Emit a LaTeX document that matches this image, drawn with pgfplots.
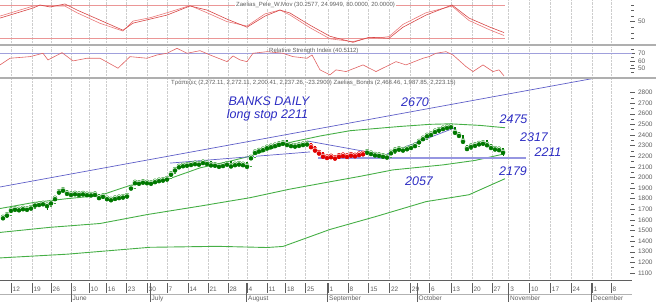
\documentclass[border=0pt]{standalone}
\usepackage{fontspec}
\setmainfont{Liberation Sans}
\usepackage{pgfplots}
\usepackage{pgfplotstable}
\pgfplotsset{compat=1.18}

\definecolor{gridc}{RGB}{205,205,205}
\definecolor{sepc}{RGB}{175,175,175}
\definecolor{labc}{RGB}{95,95,95}
\definecolor{oscA}{RGB}{215,70,70}
\definecolor{oscB}{RGB}{235,120,120}
\definecolor{refl}{RGB}{235,150,150}
\definecolor{rsil}{RGB}{225,100,100}
\definecolor{rsiref}{RGB}{160,160,220}
\definecolor{bandc}{RGB}{70,175,70}
\definecolor{trendc}{RGB}{95,95,200}
\definecolor{horc}{RGB}{150,150,225}
\definecolor{candg}{RGB}{0,120,0}
\definecolor{candh}{RGB}{70,165,70}
\definecolor{candr}{RGB}{225,0,0}
\definecolor{annc}{RGB}{45,45,195}

% oscillator (Zaelias_Pele_W.Mov)
\pgfplotstableread{
t A B
-0.75 56.4 60
7.5 74.5 78
9.25 80 79
11.75 76.4 78
15.5 81.8 78
18.5 70.9 66
24.25 52.7 47
30 34.5 33
32.5 47.3 51
36.75 54.5 57
41 61.8 66
46.75 78.2 79
51 70.9 66
56 54.5 50
61 40 42
65.5 60 64
69.25 70.9 71
71.75 65.5 62
76.75 43.6 39
81.75 23.6 19
87.5 12.7 14
91.5 21.8 21
94.25 20.9 21
96.5 20 23
100 40 45
105.75 61.8 66
112.25 80 78
116.5 56.4 52
121.75 40 35
125.25 30.3 25
}\osc

% RSI
\pgfplotstableread{
t v
-0.75 54.8
1.75 63.5
6.75 65.6
10 70
11.25 61.3
14.75 70.8
17.5 60
21 63.5
24.25 63.5
28.75 50.5
31.75 65.6
36 63.5
38.5 67.8
41 70
43.5 76.5
46 70
49.25 73.4
51.75 67.8
56 59.1
57.5 66.5
59.25 61.3
61 59.1
62.5 70
66 72.1
70 70
72.5 65.6
76 63.5
77.25 67.8
79.25 48.3
81.75 41.8
83.25 48.3
85.75 46.1
90 54.8
93.25 46.1
98.25 59.1
100.75 54.8
105 63.5
106.5 65.6
108.25 70
110.75 72.1
112.5 67.8
115.75 52.6
117.5 46.1
120 54.8
122.5 46.1
124 48.3
125.25 40.5
}\rsi

% bands (Zaelias_Bonds)
\pgfplotstableread{
t up
-0.75 1707
7.5 1763
16 1800
24.25 1830
31.75 1925
41 1980
49.25 2090
57.5 2160
61.75 2200
71.75 2330
79.25 2390
86.75 2440
99.25 2480
106.75 2500
111.75 2505
119.25 2490
125.5 2468
}\bandup
\pgfplotstableread{
t mid
-0.75 1482
11.75 1530
24.25 1566
36 1650
49.25 1730
61.75 1809
71.75 1890
81.75 1959
89.25 2010
97.5 2071
110 2118
118 2160
125.5 2223
}\bandmid
\pgfplotstableread{
t lo
-0.75 1242
16 1277
36.75 1342
53.5 1351
66 1340
70 1350
81.75 1510
93.25 1632
105.75 1772
116.5 1837
125.5 1988
}\bandlo

% candles: green
\pgfplotstableread{
t o h l c
0 1610 1628 1600 1620
1 1615 1660 1610 1645
2 1645 1698 1640 1690
3 1690 1708 1685 1700
4 1700 1705 1688 1695
5 1695 1712 1690 1705
6 1705 1710 1694 1700
7 1700 1718 1696 1712
8 1712 1748 1708 1740
9 1740 1752 1735 1745
10 1745 1760 1740 1752
11 1752 1756 1690 1735
12 1735 1766 1730 1760
13 1760 1808 1755 1800
14 1820 1870 1815 1862
15 1895 1902 1875 1880
16 1880 1884 1845 1850
17 1850 1855 1835 1840
18 1840 1852 1836 1846
19 1846 1850 1834 1840
20 1840 1850 1836 1845
21 1845 1848 1832 1838
22 1838 1842 1828 1835
23 1835 1846 1830 1840
24 1840 1842 1800 1810
25 1810 1828 1805 1822
26 1822 1825 1795 1800
27 1800 1804 1782 1790
28 1790 1808 1786 1802
29 1802 1816 1798 1810
30 1810 1820 1805 1815
31 1815 1830 1810 1825
32 1840 1908 1835 1900
33 1900 1956 1895 1950
34 1950 1955 1938 1945
35 1945 1960 1940 1955
36 1955 1958 1944 1950
37 1950 1954 1940 1945
38 1945 1965 1940 1960
39 1960 1975 1955 1970
40 1970 1980 1965 1975
41 1975 1990 1970 1985
42 1995 2036 1990 2030
43 2040 2076 2035 2070
44 2075 2106 2070 2100
45 2100 2116 2095 2110
46 2110 2120 2104 2115
47 2115 2128 2110 2122
48 2122 2136 2118 2130
49 2130 2134 2118 2125
50 2125 2146 2120 2140
51 2140 2144 2126 2132
52 2150 2155 2112 2118
53 2118 2122 2108 2115
54 2115 2118 2095 2105
55 2105 2118 2100 2112
56 2112 2130 2108 2125
57 2150 2156 2100 2108
58 2108 2126 2104 2120
59 2120 2132 2116 2126
60 2126 2130 2114 2120
61 2140 2146 2098 2105
62 2110 2192 2105 2185
63 2190 2242 2185 2235
64 2235 2256 2230 2250
65 2250 2268 2245 2262
66 2262 2286 2258 2280
67 2280 2296 2275 2290
68 2290 2306 2285 2300
69 2300 2318 2295 2312
70 2312 2328 2308 2322
71 2345 2350 2305 2310
72 2310 2314 2294 2300
73 2300 2304 2288 2295
74 2295 2308 2290 2302
75 2302 2316 2298 2310
76 2310 2322 2306 2315
91 2222 2244 2218 2238
92 2240 2244 2220 2225
93 2228 2232 2205 2212
94 2212 2216 2200 2208
95 2208 2212 2192 2200
96 2200 2204 2185 2192
97 2195 2238 2190 2232
98 2232 2260 2228 2255
99 2255 2272 2250 2266
100 2266 2270 2252 2258
101 2258 2276 2254 2270
102 2270 2288 2265 2282
103 2282 2306 2278 2300
104 2300 2342 2296 2335
105 2330 2372 2326 2365
106 2365 2398 2360 2392
107 2415 2420 2398 2405
108 2405 2438 2400 2432
109 2432 2452 2428 2446
110 2446 2466 2440 2460
111 2460 2476 2455 2470
112 2470 2486 2465 2478
113 2470 2476 2418 2425
114 2425 2430 2390 2396
115 2395 2400 2332 2340
116 2300 2305 2262 2272
117 2272 2298 2268 2292
118 2292 2308 2288 2302
119 2302 2322 2298 2316
120 2316 2328 2310 2322
121 2345 2350 2300 2308
122 2308 2312 2276 2282
123 2282 2288 2262 2268
124 2268 2272 2255 2262
125 2272 2272 2200 2237
}\gcandles

% candles: red
\pgfplotstableread{
t o h l c
77 2315 2318 2285 2290
78 2290 2294 2252 2258
79 2258 2262 2225 2230
80 2230 2234 2195 2200
81 2200 2205 2180 2188
82 2188 2200 2184 2195
83 2195 2198 2176 2182
84 2182 2205 2178 2200
85 2200 2212 2196 2206
86 2206 2210 2192 2198
87 2198 2215 2194 2210
88 2210 2214 2198 2204
89 2204 2220 2200 2215
90 2215 2228 2210 2222
}\rcandles

\pgfplotsset{
  panel/.style={
    at={(0pt,#1)}, anchor=south west, scale only axis, width=632pt,
    xmin=-0.75, xmax=157.25,
    axis line style={draw=none},
    xtick={2,7.2,12,17,21.5,25.8,30.8,36,41,46.2,51.2,56.2,61,66,70.6,75.6,81.2,86.2,91.4,96.6,101.8,106.6,112,117.2,122.2,126.4,131.6,136.8,142,147.2,152},
    xticklabels={}, xmajorgrids,
    major grid style={gridc, densely dotted, line width=0.5pt},
    xtick style={draw=none},
    ytick pos=right, yticklabel pos=right,
    ytick align=center,
    major tick length=5pt, minor tick length=3pt,
    ytick style={labc, line width=0.4pt},
    minor tick style={labc, line width=0.4pt},
    yticklabel style={font=\fontsize{6.5}{7}\selectfont, text=labc, xshift=0pt},
    /pgf/number format/assume math mode=true,
    /pgf/number format/1000 sep={},
  },
  candle/.style n args={3}{only marks, mark=none, forget plot, color=#1,
    error bars/.cd, y dir=both, y explicit, error mark=none,
    error bar style={color=#1, line width=#2, line cap=#3}},
  wicks/.style={candle={#1}{0.5pt}{butt}},
}

\begin{document}
\begin{tikzpicture}[x=1pt,y=1pt]
\path[use as bounding box] (0,0) rectangle (656,302);

% ---------- top panel ----------
\begin{axis}[panel=258pt, height=44pt, ymin=9.7, ymax=89,
  ytick={50}, minor ytick={20,30,40,60,70,80}]
\addplot[refl, line width=0.6pt] coordinates {(-0.75,80) (125.5,80)};
\addplot[refl, line width=0.6pt] coordinates {(-0.75,20) (125.5,20)};
\addplot[oscB, line width=0.6pt] table[x=t, y=B] {\osc};
\addplot[oscA, line width=0.6pt] table[x=t, y=A] {\osc};
\end{axis}

% ---------- RSI panel ----------
\begin{axis}[panel=225pt, height=30pt, ymin=39, ymax=78.2,
  ytick={50,60,70}, minor ytick={45,55,65,75}]
\addplot[rsiref, line width=1.5pt] coordinates {(-0.75,70) (157.25,70)};
\addplot[rsil, line width=0.6pt] table[x=t, y=v] {\rsi};
\end{axis}

% ---------- main panel ----------
\begin{axis}[panel=22pt, height=201pt, ymin=1034, ymax=2927,
  ytick={1100,1200,...,2800}, minor y tick num=1]
\addplot[bandc, line width=0.9pt] table[x=t, y=up] {\bandup};
\addplot[bandc, line width=0.9pt] table[x=t, y=mid] {\bandmid};
\addplot[bandc, line width=0.9pt] table[x=t, y=lo] {\bandlo};
% trend lines
\addplot[trendc, line width=0.7pt] coordinates {(-0.75,1910) (148.25,2937)};
\addplot[trendc, line width=0.7pt] coordinates {(41.75,2135) (76.75,2240)};
\addplot[trendc, line width=0.7pt] coordinates {(76,2344) (96.75,2202)};
\addplot[trendc, line width=0.7pt] coordinates {(96,2221) (113,2468)};
\addplot[horc, line width=1.5pt] coordinates {(78.75,2183) (130.75,2183)};
% green candles: wicks, hollow bodies (close>open), filled bodies (close<open)
\addplot[wicks=candg] table[x=t, y=c,
  y error plus expr={\thisrow{h}-\thisrow{c}},
  y error minus expr={\thisrow{c}-\thisrow{l}}] {\gcandles};
\addplot[candle={candh}{2.6pt}{butt}] table[x=t, y expr={\thisrow{c}+9},
  y error plus expr={0},
  y error minus expr={(\thisrow{c}>\thisrow{o}) ? (\thisrow{c}-\thisrow{o}+18) : 0}] {\gcandles};
\addplot[candle={white}{1.1pt}{butt}] table[x=t, y expr={\thisrow{c}+2},
  y error plus expr={0},
  y error minus expr={(\thisrow{c}>\thisrow{o}) ? (\thisrow{c}-\thisrow{o}+4) : 0}] {\gcandles};
\addplot[candle={candg}{2.6pt}{butt}] table[x=t, y expr={\thisrow{c}-5},
  y error plus expr={(\thisrow{o}>\thisrow{c}) ? (\thisrow{o}-\thisrow{c}+10) : 0},
  y error minus expr={0}] {\gcandles};
% red candles
\addplot[wicks=candr] table[x=t, y=c,
  y error plus expr={\thisrow{h}-\thisrow{c}},
  y error minus expr={\thisrow{c}-\thisrow{l}}] {\rcandles};
\addplot[candle={candr}{2.6pt}{butt}] table[x=t, y expr={\thisrow{c}+9},
  y error plus expr={0},
  y error minus expr={(\thisrow{c}>\thisrow{o}) ? (\thisrow{c}-\thisrow{o}+18) : 0}] {\rcandles};
\addplot[candle={white}{1.1pt}{butt}] table[x=t, y expr={\thisrow{c}+2},
  y error plus expr={0},
  y error minus expr={(\thisrow{c}>\thisrow{o}) ? (\thisrow{c}-\thisrow{o}+4) : 0}] {\rcandles};
\addplot[candle={candr}{2.6pt}{butt}] table[x=t, y expr={\thisrow{c}-5},
  y error plus expr={(\thisrow{o}>\thisrow{c}) ? (\thisrow{o}-\thisrow{c}+10) : 0},
  y error minus expr={0}] {\rcandles};
\end{axis}

% separators
\fill[sepc] (0,255.5) rectangle (656,257.5);
\fill[sepc] (0,223) rectangle (656,225);
\draw[labc, line width=0.6pt] (0,22) -- (632,22);
\draw[gray!60, line width=0.4pt] (0,8) -- (632,8);

% titles
\node[anchor=west, fill=white, inner sep=1pt, font=\fontsize{6}{7}\selectfont, text=labc] at (235,297) {Zaelias\_Pele\_W.Mov (30.2577, 24.9949, 80.0000, 20.0000)};
\node[anchor=west, inner sep=1pt, font=\fontsize{6}{7}\selectfont, text=labc] at (268,251.5) {Relative Strength Index (40.5112)};
\node[anchor=west, inner sep=1pt, font=\fontsize{6}{7}\selectfont, text=labc] at (170,218.7) {Τράπεζες (2,272.11, 2,272.11, 2,200.41, 2,237.26, -23.2900) Zaelias\_Bonds (2,468.46, 1,987.85, 2,223.15)};

% x axis: days
\foreach \t/\d in {2/12, 7.2/19, 12/26, 17/3, 21.5/10, 25.8/16, 30.8/23, 36/30, 41/7, 46.2/14, 51.2/21, 56.2/28, 61/4, 66/11, 70.6/18, 75.6/25, 81.2/1, 86.2/8, 91.4/15, 96.6/22, 101.8/29, 106.6/6, 112/13, 117.2/20, 122.2/27, 126.4/3, 131.6/10, 136.8/17, 142/24, 147.2/1, 152/8} {
  \draw[labc, line width=0.4pt] ({3+4*\t},9) -- ({3+4*\t},19);
  \node[anchor=west, inner sep=0pt, font=\fontsize{6.5}{7}\selectfont, text=labc] at ({3+4*\t+1.5},13) {\d};
}
% x axis: months
\foreach \x/\m in {71/June, 150/July, 246.5/August, 327.5/September, 417/October, 508.5/November, 591.5/December} {
  \draw[labc, line width=0.5pt] (\x,0) -- (\x,19);
  \node[anchor=west, inner sep=0pt, font=\fontsize{6.5}{7}\selectfont, text=labc] at (\x+1.5,3.5) {\m};
}

% annotations
\begin{scope}[every node/.style={text=annc, font=\fontsize{12.5}{13}\selectfont\itshape, inner sep=0pt}]
\node at (269,200.5) {BANKS DAILY};
\node at (267.5,187) {long stop 2211};
\node at (415,199.5) {2670};
\node at (513.5,183) {2475};
\node at (534,164.5) {2317};
\node at (548,149.5) {2211};
\node at (419,121) {2057};
\node at (513,131) {2179};
\end{scope}
\end{tikzpicture}
\end{document}
